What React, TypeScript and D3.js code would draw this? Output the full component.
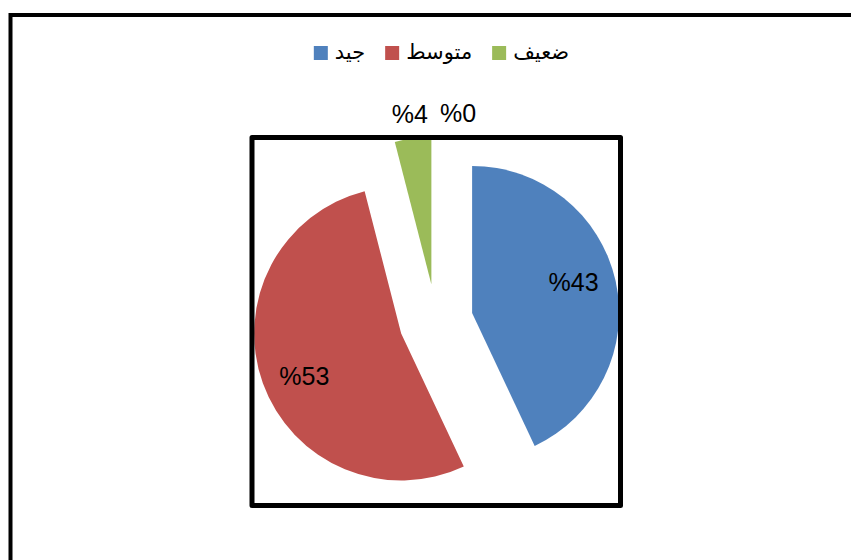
import { useEffect, useRef } from 'react';
import * as d3 from 'd3';

const categories = ['جيد', 'متوسط', 'ضعيف', ''];
const values = [43, 53, 4, 0];
const labels = ['%43', '%53', '%4', '%0'];
const colors = ['#4F81BD', '#C0504D', '#9BBB59', '#8064A2'];

export default function App() {
  const svgRef = useRef<SVGSVGElement>(null);

  useEffect(() => {
    if (!svgRef.current) return;
    const svg = d3.select(svgRef.current);
    svg.selectAll('*').remove();

    const width = 851;
    const height = 560;
    const cx = 436;
    const cy = 321;
    const radius = 147;
    const explode = 37;

    svg.attr('width', width).attr('height', height);

    // outer chart frame (runs off the picture at right and bottom)
    svg.append('rect')
      .attr('x', 10.5).attr('y', 15)
      .attr('width', 900).attr('height', 600)
      .attr('fill', 'white')
      .attr('stroke', '#000').attr('stroke-width', 4);

    const pieData = d3.pie<number>().sort(null).value(d => d)(values);
    const arc = d3.arc<d3.PieArcDatum<number>>().innerRadius(0).outerRadius(radius);

    const g = svg.append('g').attr('transform', `translate(${cx},${cy})`);

    const mid = (d: d3.PieArcDatum<number>) => (d.startAngle + d.endAngle) / 2;
    const polar = (a: number, r: number) => [Math.sin(a) * r, -Math.cos(a) * r];

    pieData.forEach((d, i) => {
      if (d.value === 0) return;
      const [ox, oy] = polar(mid(d), explode);
      g.append('path')
        .attr('transform', `translate(${ox},${oy})`)
        .attr('d', arc(d) as string)
        .attr('fill', colors[i]);
    });

    // plot area box
    svg.append('rect')
      .attr('x', 252).attr('y', 137.5)
      .attr('width', 368.5).attr('height', 368)
      .attr('fill', 'none')
      .attr('stroke', '#000').attr('stroke-width', 5)
      .attr('stroke-linejoin', 'round');

    // data labels
    const labelFont = '25px "Liberation Sans", Arial, sans-serif';
    const labelShift = -4 * Math.PI / 180;
    let prevRight = -Infinity;
    pieData.forEach((d, i) => {
      const big = d.value >= 10;
      let x: number, y: number;
      if (big) {
        const [ox, oy] = polar(mid(d), explode);
        const [lx, ly] = polar(mid(d) + labelShift, radius * 0.72);
        x = cx + ox + lx;
        y = cy + oy + ly;
      } else {
        const [lx, ly] = polar(mid(d), 208);
        x = cx + lx;
        y = cy + ly;
      }
      const t = svg.append('text')
        .attr('x', x).attr('y', y)
        .attr('dy', '0.35em')
        .attr('text-anchor', 'middle')
        .style('font', labelFont)
        .attr('fill', '#000')
        .text(labels[i]);
      if (!big) {
        const w = (t.node() as SVGTextElement).getComputedTextLength();
        if (x - w / 2 < prevRight + 12) {
          x = prevRight + 12 + w / 2;
          t.attr('x', x);
        }
        prevRight = x + w / 2;
      }
    });

    // legend
    const legend = svg.append('g');
    const sq = 14;
    let lx = 0;
    categories.forEach((c, i) => {
      if (!c) return;
      legend.append('rect')
        .attr('x', lx).attr('y', -sq / 2)
        .attr('width', sq).attr('height', sq)
        .attr('fill', colors[i]);
      const t = legend.append('text')
        .attr('x', lx + sq + 7).attr('y', 0)
        .attr('dy', '0.3em')
        .attr('text-anchor', 'start')
        .style('font', '21px "DejaVu Sans", sans-serif')
        .attr('fill', '#000')
        .text(c);
      const w = (t.node() as SVGTextElement).getComputedTextLength();
      lx += sq + 7 + w + 20;
    });
    const legendWidth = lx - 20;
    legend.attr('transform', `translate(${441.5 - legendWidth / 2},53)`);
  }, []);

  return (
    <div style={{ position: 'absolute', left: 0, top: 0 }}>
      <svg ref={svgRef} style={{ display: 'block' }} />
    </div>
  );
}
